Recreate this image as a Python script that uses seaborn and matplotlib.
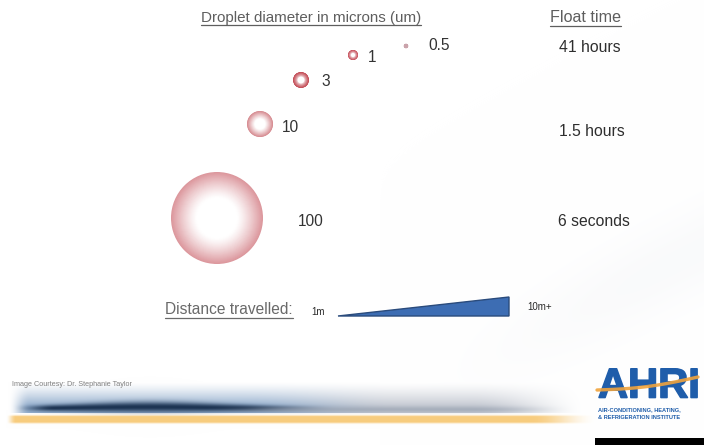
import numpy as np
import pandas as pd
import matplotlib
matplotlib.use("Agg")
import matplotlib.pyplot as plt
import matplotlib.patheffects as pe
from matplotlib.patches import Rectangle, Polygon
import seaborn as sns

# ---- values ----
diameters = [100, 10, 3, 1, 0.5]
diameter_labels = ["100", "10", "3", "1", "0.5"]
float_times = ["6 seconds", "1.5 hours", "41 hours"]
distance_labels = ["1m", "10m+"]
header_left = "Droplet diameter in microns (um)"
header_right = "Float time"
distance_title = "Distance travelled:"
credit = "Image Courtesy: Dr. Stephanie Taylor"

# ---- layout (pixel space) ----
drop_x = [217, 260, 301, 353, 406]
drop_y = [218, 124, 80, 55, 46]
drop_r = [46, 13, 8, 5, 2.2]
drop_rim = ["#dc979d", "#d6898f", "#c24852", "#c74f5a", "#caa3ab"]
drop_hole = [0.45, 0.40, 0.40, 0.36, 0.0]
drop_pow = [1.2, 1.1, 0.6, 0.6, 1.0]
label_x = [298, 282, 321, 368, 428]
label_y = [222, 128, 81, 57, 46]
time_x = [558, 559, 559]
time_y = [222, 131, 48]

W, H = 704, 445
sns.set_theme(style="white")
plt.rcParams["font.family"] = ["Liberation Sans", "DejaVu Sans"]

fig = plt.figure(figsize=(W / 100, H / 100), dpi=100)
ax = fig.add_axes([0, 0, 1, 1])
ax.set_xlim(0, W)
ax.set_ylim(H, 0)
ax.axis("off")

# ---- background with footer banner ----
yy, xx = np.mgrid[0:H, 0:W] + 0.5
img = np.ones((H, W, 3))


def blend(base, color, alpha):
    a = np.clip(alpha, 0, 1)[..., None]
    return base * (1 - a) + np.asarray(color) * a


def ramp(x, a, b):
    t = np.clip((x - a) / (b - a), 0, 1)
    return t * t * (3 - 2 * t)


# faint diagonal wash on the right
diag = (yy - (440 - 0.5 * (xx - 320)))
img = blend(img, (0.85, 0.86, 0.89), 0.14 * np.exp(-(diag / 45) ** 2) * ramp(xx, 380, 660))

# blue-grey haze above the dark swoosh
mix = ramp(xx, 240, 400)[..., None]
haze_col = np.array([0.52, 0.64, 0.78]) * (1 - mix) + np.array([0.74, 0.76, 0.80]) * mix
haze_a = (0.88 * ramp(xx, 8, 30) * (1 - ramp(xx, 470, 590))
          * np.clip((yy - 382) / 24, 0, 1) ** 1.3 * (yy < 413.5))
img = img * (1 - haze_a[..., None]) + haze_col * haze_a[..., None]

# dark navy swoosh
centre = 408.5 - 1.5 * np.exp(-((xx - 150) / 90) ** 2)
sig = 2.4 + 2.6 * np.exp(-((xx - 150) / 90) ** 2)
dark_a = 0.97 * ramp(xx, 12, 55) * (1 - ramp(xx, 240, 340)) * np.exp(-((yy - centre) / sig) ** 2)
img = blend(img, (0.10, 0.19, 0.31), dark_a)
grey_a = 0.6 * ramp(xx, 200, 300) * (1 - ramp(xx, 470, 580)) * np.exp(-((yy - 409.5) / 3) ** 2)
img = blend(img, (0.58, 0.62, 0.68), grey_a)

# yellow stripe
yel_a = 0.95 * ramp(xx, 6, 16) * (1 - ramp(xx, 530, 598)) * np.clip(1.25 * np.exp(-((yy - 419.3) / 3.8) ** 4), 0, 1)
img = blend(img, (0.97, 0.79, 0.47), yel_a)

ax.imshow(img, extent=(0, W, H, 0), zorder=0, interpolation="bilinear")

# ---- droplets: stacked discs fading from rim colour to white ----
drops = pd.DataFrame({"x": drop_x, "y": drop_y, "diameter": diameters})
white = np.array([1.0, 1.0, 1.0])
rims = [np.array(matplotlib.colors.to_rgb(c)) for c in drop_rim]
n_layers = 50
for k in range(n_layers):
    t = 1 - k / n_layers
    palette, sizes = {}, {}
    for d, r, rim, hole, p in zip(diameters, drop_r, rims, drop_hole, drop_pow):
        w = np.clip((t - hole) / (1 - hole), 0, 1) ** p if hole > 0 else 1.0
        palette[d] = tuple(white + (rim - white) * w)
        sizes[d] = (2 * r * t * 0.72) ** 2
    sns.scatterplot(data=drops, x="x", y="y", hue="diameter", palette=palette,
                    size="diameter", sizes=sizes, linewidth=0, legend=False,
                    ax=ax, zorder=2 + k * 0.01)
ax.set_xlim(0, W)
ax.set_ylim(H, 0)
ax.set_xlabel("")
ax.set_ylabel("")

for lbl, x, y in zip(diameter_labels, label_x, label_y):
    ax.text(x, y, lbl, fontsize=11.2, color="#333333", va="center", ha="left", zorder=5)

for lbl, x, y in zip(float_times, time_x, time_y):
    ax.text(x, y, lbl, fontsize=11.3, color="#2e2e2e", va="center", ha="left", zorder=5)

# ---- headers with underline ----
underlined = []
underlined.append(ax.text(201, 18, header_left, fontsize=10.9, color="#5e5e5e", va="center", ha="left"))
underlined.append(ax.text(550, 18, header_right, fontsize=11.6, color="#5e5e5e", va="center", ha="left"))
underlined.append(ax.text(165, 310, distance_title, fontsize=11.2, color="#6a6a6a", va="center", ha="left"))

# ---- distance wedge ----
ax.text(311, 312, distance_labels[0], fontsize=7, color="#2a2a2a", va="center", ha="left")
ax.text(527, 307, distance_labels[1], fontsize=7, color="#2a2a2a", va="center", ha="left")
ax.add_patch(Polygon([(338, 316), (509, 297), (509, 316)], closed=True,
                     facecolor="#3d6db3", edgecolor="#2a4b7c", lw=1, zorder=4))

# ---- footer texts and logo ----
ax.text(12, 384, credit, fontsize=5.2, color="#808080", va="center", ha="left")
ax.text(598, 397.5, "AHRI", fontsize=30, fontweight="bold", color="#1f5daa", va="baseline", ha="left",
        zorder=6, path_effects=[pe.withStroke(linewidth=1.2, foreground="#1f5daa")])
lx = np.linspace(597, 698, 60)
u = (lx - 597) / 101
ly = 390 - 13 * u + 3 * np.sin(u * np.pi)
ax.plot(lx, ly, color="#f0a33c", lw=2.4, alpha=0.9, zorder=7, solid_capstyle="round")
ax.text(598, 410, "AIR-CONDITIONING, HEATING,", fontsize=4.1, fontweight="bold", color="#1f5daa", va="center", ha="left")
ax.text(598, 417.5, "& REFRIGERATION INSTITUTE", fontsize=4.1, fontweight="bold", color="#1f5daa", va="center", ha="left")
ax.add_patch(Rectangle((595, 438), 109, 7, facecolor="black", edgecolor="none", zorder=8))

# underline each heading using its rendered extent
fig.canvas.draw()
inv = ax.transData.inverted()
for t in underlined:
    bb = t.get_window_extent()
    (x0, y0), (x1, y1) = inv.transform([(bb.x0, bb.y0), (bb.x1, bb.y1)])
    yline = max(y0, y1) + 0.5
    ax.plot([x0, x1], [yline, yline], color=t.get_color(), lw=0.9, zorder=5)

fig.savefig("out.png", dpi=100)
